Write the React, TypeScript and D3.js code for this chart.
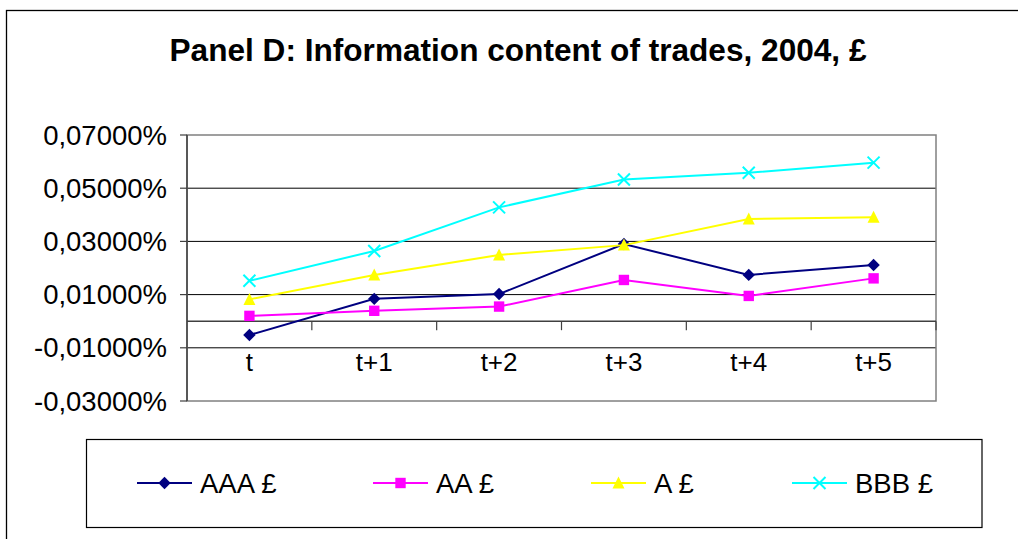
import React from 'react';
import * as d3 from 'd3';

const categories = ['t', 't+1', 't+2', 't+3', 't+4', 't+5'];
const aaa = [-0.0052, 0.0084, 0.0102, 0.029, 0.0174, 0.0211];
const aa = [0.002, 0.0039, 0.0055, 0.0155, 0.0095, 0.0161];
const aOnly = [0.0082, 0.0174, 0.0249, 0.0286, 0.0384, 0.0391];
const bbb = [0.0152, 0.0264, 0.0428, 0.0533, 0.0558, 0.0596];
const yTicks = [0.07, 0.05, 0.03, 0.01, -0.01, -0.03];

const series = [
  { name: 'AAA £', values: aaa, color: '#000080', marker: 'diamond' },
  { name: 'AA £', values: aa, color: '#FF00FF', marker: 'square' },
  { name: 'A £', values: aOnly, color: '#FFFF00', marker: 'triangle' },
  { name: 'BBB £', values: bbb, color: '#00FFFF', marker: 'x' },
];

const W = 1018;
const H = 539;
const plot = { left: 187, right: 936, top: 135, bottom: 401 };
const font = '"Liberation Sans", Arial, sans-serif';

const fmt = (v: number) =>
  (v < 0 ? '-' : '') + Math.abs(v).toFixed(5).replace('.', ',') + '%';

function markerPath(kind: string, cx: number, cy: number) {
  const p = d3.path();
  if (kind === 'diamond') {
    const h = 6.2;
    p.moveTo(cx, cy - h); p.lineTo(cx + h, cy); p.lineTo(cx, cy + h); p.lineTo(cx - h, cy); p.closePath();
  } else if (kind === 'square') {
    const h = 5.2;
    p.rect(cx - h, cy - h, h * 2, h * 2);
  } else if (kind === 'triangle') {
    p.moveTo(cx, cy - 6.5); p.lineTo(cx + 6, cy + 5.5); p.lineTo(cx - 6, cy + 5.5); p.closePath();
  } else {
    const h = 6;
    p.moveTo(cx - h, cy - h); p.lineTo(cx + h, cy + h);
    p.moveTo(cx - h, cy + h); p.lineTo(cx + h, cy - h);
  }
  return p.toString();
}

export default function App() {
  const x = d3.scaleBand<string>().domain(categories).range([plot.left, plot.right]);
  const y = d3.scaleLinear().domain([-0.03, 0.07]).range([plot.bottom, plot.top]);
  const cx = (c: string) => (x(c) as number) + x.bandwidth() / 2;

  const line = d3.line<number>()
    .x((_, i) => cx(categories[i]))
    .y(d => y(d));

  const legendX = [137, 373, 591, 792];
  const legendY = 483;

  return (
    <svg width={W} height={H} style={{ position: 'absolute', left: 0, top: 0, background: '#fff' }}>
      <rect x={0} y={0} width={W} height={H} fill="#fff" />
      {/* outer chart frame */}
      <rect x={6.5} y={10.5} width={1040} height={560} fill="none" stroke="#000" strokeWidth={1.3} />
      <text x={518} y={61} textAnchor="middle" fontFamily={font} fontWeight="bold" fontSize={31.6}>
        Panel D: Information content of trades, 2004, £
      </text>

      {/* gridlines */}
      {yTicks.filter(t => t !== 0.07 && t !== -0.03).map(t => (
        <line key={t} x1={plot.left} x2={plot.right} y1={y(t)} y2={y(t)} stroke="#000" strokeWidth={1} />
      ))}
      {/* plot frame */}
      <rect x={plot.left} y={plot.top} width={plot.right - plot.left} height={plot.bottom - plot.top}
        fill="none" stroke="#808080" strokeWidth={1.5} />
      {/* y axis */}
      <line x1={plot.left} x2={plot.left} y1={plot.top} y2={plot.bottom} stroke="#404040" strokeWidth={1.5} />
      {yTicks.map(t => (
        <g key={t}>
          <line x1={plot.left - 7} x2={plot.left} y1={y(t)} y2={y(t)} stroke="#404040" strokeWidth={1.2} />
          <text x={167} y={y(t) + 9.5} textAnchor="end" fontFamily={font} fontSize={27.5}>{fmt(t)}</text>
        </g>
      ))}
      {/* x axis at zero */}
      <line x1={plot.left} x2={plot.right} y1={y(0)} y2={y(0)} stroke="#404040" strokeWidth={1.5} />
      {categories.map(c => (
        <line key={c} x1={(x(c) as number) + x.bandwidth()} x2={(x(c) as number) + x.bandwidth()}
          y1={y(0)} y2={y(0) + 9} stroke="#404040" strokeWidth={1.2} />
      ))}
      {categories.map(c => (
        <text key={c} x={cx(c)} y={371} textAnchor="middle" fontFamily={font} fontSize={26}>{c}</text>
      ))}

      {/* series */}
      {series.map(s => (
        <g key={s.name}>
          <path d={line(s.values) || ''} fill="none" stroke={s.color} strokeWidth={2} />
          {s.values.map((v, i) => (
            <path key={i} d={markerPath(s.marker, cx(categories[i]), y(v))}
              fill={s.marker === 'x' ? 'none' : s.color} stroke={s.color}
              strokeWidth={s.marker === 'x' ? 2 : 0} />
          ))}
        </g>
      ))}

      {/* legend */}
      <rect x={86.5} y={439.5} width={895.5} height={88} fill="none" stroke="#000" strokeWidth={1.2} />
      {series.map((s, i) => (
        <g key={s.name}>
          <line x1={legendX[i]} x2={legendX[i] + 55} y1={legendY} y2={legendY} stroke={s.color} strokeWidth={2} />
          <path d={markerPath(s.marker, legendX[i] + 27.5, legendY)}
            fill={s.marker === 'x' ? 'none' : s.color} stroke={s.color}
            strokeWidth={s.marker === 'x' ? 2 : 0} />
          <text x={legendX[i] + 63} y={legendY + 9.5} fontFamily={font} fontSize={27.5}>{s.name}</text>
        </g>
      ))}
    </svg>
  );
}
